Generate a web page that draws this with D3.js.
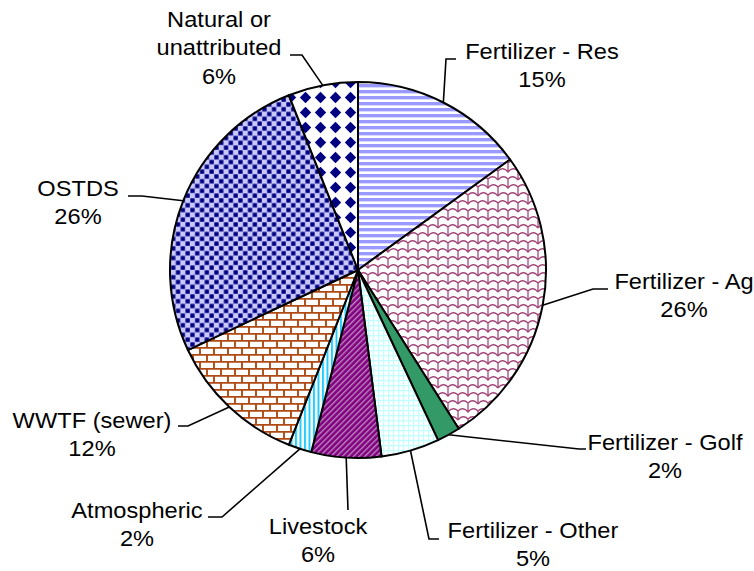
<!DOCTYPE html>
<html>
<head>
<meta charset="utf-8">
<script src="https://cdn.jsdelivr.net/npm/d3@7"></script>
<style>
  html, body { margin: 0; padding: 0; background: #fff; }
  svg { display: block; }
  text { font-family: "Liberation Sans", Arial, sans-serif; fill: #000; }
</style>
</head>
<body>
<svg id="chart" width="754" height="571"></svg>
<script>
// ---- data ----
const categories = ["Fertilizer - Res", "Fertilizer - Ag", "Fertilizer - Golf", "Fertilizer - Other",
  "Livestock", "Atmospheric", "WWTF (sewer)", "OSTDS", "Natural or unattributed"];
const values = [15, 26, 2, 5, 6, 2, 12, 26, 6];
const labelLines = [["Fertilizer - Res"], ["Fertilizer - Ag"], ["Fertilizer - Golf"], ["Fertilizer - Other"],
  ["Livestock"], ["Atmospheric"], ["WWTF (sewer)"], ["OSTDS"], ["Natural or", "unattributed"]];
const percentLabels = ["15%", "26%", "2%", "5%", "6%", "2%", "12%", "26%", "6%"];

// ---- layout (label placement, not data) ----
const cx = 358, cy = 270, R = 188;
const labelLayout = [
  { x: 542, y: 51, leader: [[446, 59], [456, 59]] },
  { x: 684, y: 281, leader: [[593, 289], [608, 289]] },
  { x: 665, y: 442, leader: [[579, 449], [586, 449]] },
  { x: 533, y: 530, leader: [[429, 539], [439, 539]] },
  { x: 318, y: 526, leader: [[348, 510]] },
  { x: 137, y: 510, leader: [[222, 517], [208, 517]] },
  { x: 92, y: 420, leader: [[188, 426], [178, 426]] },
  { x: 78, y: 188, leader: [[142, 196], [128, 196]] },
  { x: 219, y: 19, leader: [[302, 55], [290, 55]] }
];
const lineGap = 28.5;
const fontSize = 22;
const stretchX = 1.075;

const svg = d3.select("#chart");
const defs = svg.append("defs");

// ---- patterns ----
function pat(id, w, h, transform) {
  const p = defs.append("pattern").attr("id", id).attr("patternUnits", "userSpaceOnUse")
    .attr("width", w).attr("height", h);
  if (transform) p.attr("patternTransform", transform);
  return p;
}
// Res: horizontal stripes
let p = pat("pRes", 8, 6);
p.append("rect").attr("width", 8).attr("height", 6).attr("fill", "#fff");
p.append("rect").attr("y", 0).attr("width", 8).attr("height", 3.2).attr("fill", "#9999ff");
p.append("rect").attr("y", 3.2).attr("width", 8).attr("height", 0.8).attr("fill", "#d6d6ff");
// Ag: shingle / scale pattern
p = pat("pAg", 20, 16);
p.append("rect").attr("width", 20).attr("height", 16).attr("fill", "#fff");
p.append("path")
  .attr("d", "M0,6 Q5,0 10,5 Q15,0 20,6 " +
             "M-10,14 Q-5,8 0,13 Q5,8 10,14 Q15,8 20,13 Q25,8 30,14 " +
             "M10,5 L10,14 M0,13 L0,22 M20,13 L20,22 M0,-3 L0,6 M20,-3 L20,6")
  .attr("fill", "none").attr("stroke", "#a3487a").attr("stroke-width", 1.3);
// Other: light cyan grid
p = pat("pOther", 5, 5);
p.append("rect").attr("width", 5).attr("height", 5).attr("fill", "#c4ffff");
p.append("rect").attr("x", 1.3).attr("y", 1.3).attr("width", 3.7).attr("height", 3.7).attr("fill", "#fff");
// Livestock: purple with light diagonals
p = pat("pLive", 4, 4, "rotate(45)");
p.append("rect").attr("width", 4).attr("height", 4).attr("fill", "#800080");
p.append("rect").attr("width", 1.3).attr("height", 4).attr("fill", "#c08cc0");
// Atmospheric: vertical cyan stripes
p = pat("pAtm", 4.5, 4);
p.append("rect").attr("width", 4.5).attr("height", 4).attr("fill", "#fff");
p.append("rect").attr("width", 2).attr("height", 4).attr("fill", "#22ccff");
// WWTF: bricks
p = pat("pWW", 14, 14);
p.append("rect").attr("width", 14).attr("height", 14).attr("fill", "#fff");
p.append("path").attr("d", "M0,0.9 H14 M0,7.9 H14 M3,0 V7 M10,7 V14")
  .attr("fill", "none").attr("stroke", "#b04a14").attr("stroke-width", 1.9);
// OSTDS: checkerboard
p = pat("pOS", 9.6, 9.6);
p.append("rect").attr("width", 9.6).attr("height", 9.6).attr("fill", "#c8c8ff");
p.append("rect").attr("x", 0.3).attr("y", 0.3).attr("width", 4.3).attr("height", 4.3).attr("fill", "#000080");
p.append("rect").attr("x", 5.1).attr("y", 5.1).attr("width", 4.3).attr("height", 4.3).attr("fill", "#000080");
// Natural: diamonds
p = pat("pNat", 15, 15);
p.append("rect").attr("width", 15).attr("height", 15).attr("fill", "#fff");
p.append("path").attr("d", "M7.5,1.8 L13.2,7.5 L7.5,13.2 L1.8,7.5 Z").attr("fill", "#000080");

const fills = ["url(#pRes)", "url(#pAg)", "#339966", "url(#pOther)", "url(#pLive)",
  "url(#pAtm)", "url(#pWW)", "url(#pOS)", "url(#pNat)"];

// ---- pie ----
const pie = d3.pie().sort(null).value(d => d.v);
const data = categories.map((c, i) => ({ c, v: values[i], i }));
const arcs = pie(data);
const arc = d3.arc().innerRadius(0).outerRadius(R);

const g = svg.append("g").attr("transform", `translate(${cx},${cy})`);
g.selectAll("path.slice").data(arcs).enter().append("path")
  .attr("class", "slice")
  .attr("d", arc)
  .attr("fill", d => fills[d.data.i])
  .attr("stroke", "#000").attr("stroke-width", 2).attr("stroke-linejoin", "round");

// ---- leader lines ----
const line = d3.line();
arcs.forEach((d, i) => {
  const a = (d.startAngle + d.endAngle) / 2;
  const rim = [cx + R * Math.sin(a), cy - R * Math.cos(a)];
  const pts = [rim].concat(labelLayout[i].leader);
  svg.append("path").attr("d", line(pts)).attr("fill", "none")
    .attr("stroke", "#000").attr("stroke-width", 1.6);
});

// ---- labels ----
arcs.forEach((d, i) => {
  const L = labelLayout[i];
  const lines = labelLines[i].concat([percentLabels[i]]);
  const t = svg.append("text").attr("text-anchor", "middle").attr("font-size", fontSize)
    .attr("transform", `translate(${L.x},0) scale(${stretchX},1)`);
  lines.forEach((s, k) => {
    t.append("tspan").attr("x", 0).attr("y", L.y + k * lineGap).attr("dy", "0.36em").text(s);
  });
});
</script>
</body>
</html>
